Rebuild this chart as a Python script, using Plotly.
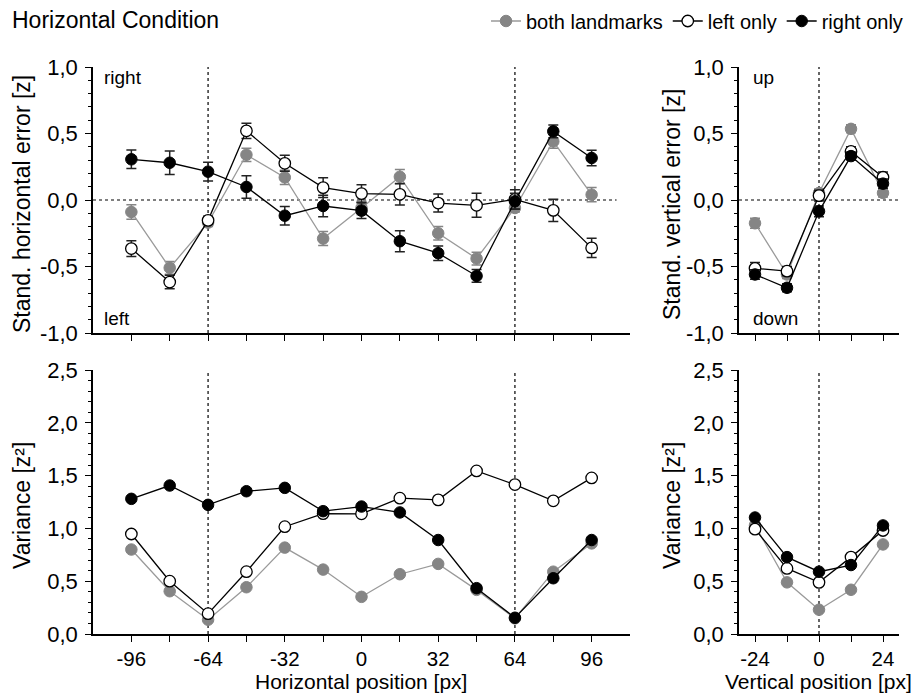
import numpy as np
import plotly.graph_objects as go

# ---------------- data ----------------
x_h = [-96, -80, -64, -48, -32, -16, 0, 16, 32, 48, 64, 80, 96]
x_v = [-24, -12, 0, 12, 24]

both_h = [-0.09, -0.51, -0.17, 0.34, 0.17, -0.29, -0.06, 0.175, -0.25, -0.44, -0.06, 0.44, 0.04]
both_h_err = [0.055, 0.048, 0.03, 0.05, 0.053, 0.053, 0.05, 0.055, 0.05, 0.048, 0.03, 0.05, 0.054]
left_h = [-0.365, -0.617, -0.153, 0.52, 0.276, 0.093, 0.048, 0.043, -0.023, -0.04, 0.005, -0.078, -0.36]
left_h_err = [0.059, 0.051, 0.03, 0.058, 0.06, 0.075, 0.066, 0.081, 0.068, 0.09, 0.073, 0.084, 0.073]
right_h = [0.306, 0.28, 0.213, 0.098, -0.118, -0.045, -0.08, -0.31, -0.40, -0.571, -0.01, 0.516, 0.316]
right_h_err = [0.07, 0.088, 0.07, 0.085, 0.07, 0.08, 0.06, 0.079, 0.055, 0.048, 0.06, 0.048, 0.058]

both_v = [-0.175, -0.56, 0.053, 0.535, 0.053]
both_v_err = [0.038, 0.03, 0.03, 0.03, 0.03]
left_v = [-0.514, -0.535, 0.033, 0.365, 0.171]
left_v_err = [0.045, 0.035, 0.04, 0.035, 0.04]
right_v = [-0.56, -0.66, -0.085, 0.33, 0.123]
right_v_err = [0.035, 0.03, 0.04, 0.03, 0.035]

both_var_h = [0.80, 0.405, 0.135, 0.443, 0.818, 0.61, 0.352, 0.566, 0.664, 0.418, 0.148, 0.59, 0.858]
left_var_h = [0.947, 0.50, 0.192, 0.59, 1.016, 1.14, 1.138, 1.286, 1.27, 1.544, 1.415, 1.261, 1.478]
right_var_h = [1.28, 1.406, 1.223, 1.352, 1.384, 1.163, 1.207, 1.151, 0.89, 0.434, 0.154, 0.528, 0.89]

both_var_v = [1.03, 0.489, 0.23, 0.419, 0.848]
left_var_v = [0.993, 0.621, 0.489, 0.728, 0.98]
right_var_v = [1.103, 0.728, 0.59, 0.653, 1.028]

series_names = ["both landmarks", "left only", "right only"]

err_ticks = [-1.0, -0.5, 0.0, 0.5, 1.0]
err_ticktext = ["-1,0", "-0,5", "0,0", "0,5", "1,0"]
var_ticks = [0.0, 0.5, 1.0, 1.5, 2.0, 2.5]
var_ticktext = ["0,0", "0,5", "1,0", "1,5", "2,0", "2,5"]
h_ticks = [-96, -64, -32, 0, 32, 64, 96]
h_ticktext = ["-96", "-64", "-32", "0", "32", "64", "96"]
v_ticks = [-24, 0, 24]
v_ticktext = ["-24", "0", "24"]

# ---------------- style ----------------
W, H = 921, 695
FONT = "Liberation Sans, Arial, sans-serif"
GRAY_M = "#858585"
GRAY_L = "#9a9a9a"

styles = [
    dict(line=dict(color=GRAY_L, width=1.3),
         marker=dict(color=GRAY_M, size=11.5, line=dict(color=GRAY_M, width=1))),
    dict(line=dict(color="black", width=1.3),
         marker=dict(color="white", size=11.5, line=dict(color="black", width=1.3))),
    dict(line=dict(color="black", width=1.3),
         marker=dict(color="black", size=11.5, line=dict(color="black", width=1))),
]
err_colors = [GRAY_M, "#222222", "#222222"]

def px_x(p):
    return p / W

def px_y(p):
    return 1 - p / H

xl_dom = [px_x(93), px_x(630)]
xr_dom = [px_x(739), px_x(899)]
yt_dom = [px_y(333), px_y(67)]
yb_dom = [px_y(634), px_y(370)]

fig = go.Figure()

def add_panel(xs, ys_list, errs_list, xa, ya, legend):
    for i, ys in enumerate(ys_list):
        kw = {}
        if errs_list is not None:
            kw["error_y"] = dict(type="data", array=errs_list[i], visible=True,
                                 color=err_colors[i], thickness=1.5, width=5)
        fig.add_trace(go.Scatter(
            x=xs, y=ys, mode="lines+markers", name=series_names[i],
            xaxis=xa, yaxis=ya, showlegend=legend, hoverinfo="skip",
            line=styles[i]["line"], marker=styles[i]["marker"], **kw))

add_panel(x_h, [both_h, left_h, right_h], [both_h_err, left_h_err, right_h_err], "x", "y", True)
add_panel(x_v, [both_v, left_v, right_v], [both_v_err, left_v_err, right_v_err], "x2", "y2", False)
add_panel(x_h, [both_var_h, left_var_h, right_var_h], None, "x3", "y3", False)
add_panel(x_v, [both_var_v, left_var_v, right_var_v], None, "x4", "y4", False)

axis_common = dict(showline=True, linecolor="black", linewidth=1.5, ticks="outside",
                   ticklen=6, tickwidth=1.3, tickcolor="black", showgrid=False,
                   zeroline=False, mirror=False, automargin=False,
                   tickfont=dict(family=FONT, size=22, color="black"))

def yax(dom, anchor, ticks, text, rng, minor_step):
    return dict(axis_common, domain=dom, anchor=anchor, range=rng,
                tickmode="array", tickvals=ticks, ticktext=text, ticklabelstandoff=3,
                minor=dict(tickmode="array",
                           tickvals=list(np.round(np.arange(rng[0], rng[1] + 1e-9, minor_step), 3)),
                           ticks="outside", ticklen=3, tickwidth=1.2, tickcolor="black"))

def xax(dom, anchor, ticks, text, rng, minor_step, labels):
    return dict(axis_common, domain=dom, anchor=anchor, range=rng,
                tickmode="array", tickvals=ticks, ticktext=text,
                showticklabels=labels, tickfont=dict(family=FONT, size=20.5, color="black"),
                minor=dict(tickmode="array",
                           tickvals=list(np.arange(ticks[0], ticks[-1] + 1, minor_step)),
                           ticks="outside", ticklen=6, tickwidth=1.3, tickcolor="black"))

fig.update_layout(
    xaxis=xax(xl_dom, "y", h_ticks, h_ticktext, [-112, 112], 16, False),
    yaxis=yax(yt_dom, "x", err_ticks, err_ticktext, [-1, 1], 0.1),
    xaxis2=xax(xr_dom, "y2", v_ticks, v_ticktext, [-30, 30], 12, False),
    yaxis2=yax(yt_dom, "x2", err_ticks, err_ticktext, [-1, 1], 0.1),
    xaxis3=xax(xl_dom, "y3", h_ticks, h_ticktext, [-112, 112], 16, True),
    yaxis3=yax(yb_dom, "x3", var_ticks, var_ticktext, [0, 2.5], 0.1),
    xaxis4=xax(xr_dom, "y4", v_ticks, v_ticktext, [-30, 30], 12, True),
    yaxis4=yax(yb_dom, "x4", var_ticks, var_ticktext, [0, 2.5], 0.1),
)

dash = dict(color="black", width=1.2, dash="3px,3px")
shapes = []
for xa, ya, xs in [("x", "y", [-64, 64]), ("x3", "y3", [-64, 64]), ("x2", "y2", [0]), ("x4", "y4", [0])]:
    for xv in xs:
        shapes.append(dict(type="line", xref=xa, yref=ya + " domain", x0=xv, x1=xv, y0=0, y1=1, line=dash, layer="below"))
shapes.append(dict(type="line", xref="x domain", yref="y", x0=0, x1=0.975, y0=0, y1=0, line=dash, layer="below"))
shapes.append(dict(type="line", xref="x2 domain", yref="y2", x0=0, x1=1, y0=0, y1=0, line=dash, layer="below"))

ann_font = dict(family=FONT, size=19, color="black")
ytitle_font = dict(family=FONT, size=23, color="black")
annotations = [
    dict(text="right", x=px_x(102), y=px_y(77), xref="paper", yref="paper", xanchor="left", yanchor="middle", showarrow=False, font=ann_font),
    dict(text="left", x=px_x(102), y=px_y(318), xref="paper", yref="paper", xanchor="left", yanchor="middle", showarrow=False, font=ann_font),
    dict(text="up", x=px_x(751), y=px_y(77), xref="paper", yref="paper", xanchor="left", yanchor="middle", showarrow=False, font=ann_font),
    dict(text="down", x=px_x(751), y=px_y(318), xref="paper", yref="paper", xanchor="left", yanchor="middle", showarrow=False, font=ann_font),
    dict(text="Stand. horizontal error [z]", x=px_x(22), y=px_y(204), xref="paper", yref="paper", textangle=-90, xanchor="center", yanchor="middle", showarrow=False, font=ytitle_font),
    dict(text="Variance [z²]", x=px_x(22), y=px_y(506), xref="paper", yref="paper", textangle=-90, xanchor="center", yanchor="middle", showarrow=False, font=ytitle_font),
    dict(text="Stand. vertical error [z]", x=px_x(672), y=px_y(205), xref="paper", yref="paper", textangle=-90, xanchor="center", yanchor="middle", showarrow=False, font=ytitle_font),
    dict(text="Variance [z²]", x=px_x(672), y=px_y(506), xref="paper", yref="paper", textangle=-90, xanchor="center", yanchor="middle", showarrow=False, font=ytitle_font),
    dict(text="Horizontal position [px]", x=px_x(361), y=px_y(681.5), xref="paper", yref="paper", xanchor="center", yanchor="middle", showarrow=False, font=dict(family=FONT, size=21, color="black")),
    dict(text="Vertical position [px]", x=px_x(818), y=px_y(681.5), xref="paper", yref="paper", xanchor="center", yanchor="middle", showarrow=False, font=dict(family=FONT, size=21, color="black")),
    dict(text="Horizontal Condition", x=px_x(10), y=px_y(20), xref="paper", yref="paper", xanchor="left", yanchor="middle", showarrow=False, font=dict(family=FONT, size=23, color="black")),
]

fig.update_layout(
    width=W, height=H, autosize=False,
    margin=dict(l=0, r=0, t=0, b=0, pad=0, autoexpand=False),
    paper_bgcolor="white", plot_bgcolor="white",
    font=dict(family=FONT, color="black"),
    shapes=shapes, annotations=annotations, hovermode=False,
    legend=dict(orientation="h", x=px_x(908), xanchor="right", y=px_y(21), yanchor="middle",
                font=dict(family=FONT, size=20, color="black"), bgcolor="rgba(0,0,0,0)",
                itemwidth=30, tracegroupgap=0),
)

fig.write_html("out.html", config={"displayModeBar": False},
               post_script="document.body.style.margin='0px';document.body.style.padding='0px';")
